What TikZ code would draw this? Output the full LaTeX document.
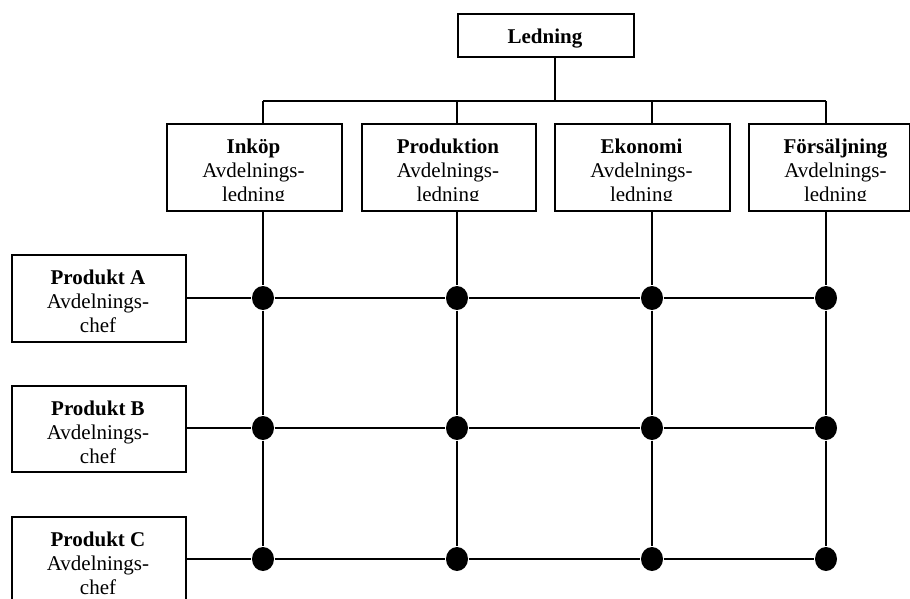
\documentclass[tikz,border=0pt]{standalone}
\usepackage{fontspec}
\setmainfont{Liberation Serif}
\usetikzlibrary{shapes.geometric}
\begin{document}
\begin{tikzpicture}[x=1pt,y=-1pt,line width=1.4pt,
  box/.style={draw,line width=1.5pt,rectangle,inner sep=0pt,anchor=north west},
  lbl/.style={anchor=north,inner sep=0pt,align=center,font=\fontsize{21}{24}\selectfont},
  dot/.style={ellipse,fill=black,draw=none,minimum width=22pt,minimum height=24pt,inner sep=0pt}]
\useasboundingbox (0,0) rectangle (910,598);

% boxes
\node[box,minimum width=176pt,minimum height=43pt] (led) at (457,13) {};
\node[box,minimum width=175pt,minimum height=87pt] (inkop) at (166,123) {};
\node[box,minimum width=174pt,minimum height=87pt] (prod) at (361,123) {};
\node[box,minimum width=175pt,minimum height=87pt] (ekon) at (554,123) {};
\node[box,minimum width=161pt,minimum height=87pt] (fors) at (748,123) {};
\node[box,minimum width=174pt,minimum height=87pt] (pa) at (11,254) {};
\node[box,minimum width=174pt,minimum height=86pt] (pb) at (11,385) {};
\node[box,minimum width=174pt,minimum height=100pt] (pc) at (11,516) {};

% box texts, cut off by the inner margin of each box
\node[lbl] (tled) at (545,27) {\rule{0pt}{16pt}\textbf{Ledning}};
\begin{scope}
  \clip (166,123) rectangle (341,200);
  \node[lbl] (tinkop) at (253.5,137) {\rule{0pt}{16pt}\textbf{Inköp}\\Avdelnings-\\ledning};
\end{scope}
\begin{scope}
  \clip (361,123) rectangle (535,200);
  \node[lbl] (tprod) at (448,137) {\rule{0pt}{16pt}\textbf{Produktion}\\Avdelnings-\\ledning};
\end{scope}
\begin{scope}
  \clip (554,123) rectangle (729,200);
  \node[lbl] (tekon) at (641.5,137) {\rule{0pt}{16pt}\textbf{Ekonomi}\\Avdelnings-\\ledning};
\end{scope}
\begin{scope}
  \clip (748,123) rectangle (909,200);
  \node[lbl] (tfors) at (835.5,137) {\rule{0pt}{16pt}\textbf{Försäljning}\\Avdelnings-\\ledning};
\end{scope}
\begin{scope}
  \clip (11,254) rectangle (185,333);
  \node[lbl] (tpa) at (98,268) {\rule{0pt}{16pt}\textbf{Produkt A}\\Avdelnings-\\chef};
\end{scope}
\begin{scope}
  \clip (11,385) rectangle (185,471);
  \node[lbl] (tpb) at (98,399) {\rule{0pt}{16pt}\textbf{Produkt B}\\Avdelnings-\\chef};
\end{scope}
\begin{scope}
  \clip (11,516) rectangle (185,598);
  \node[lbl] (tpc) at (98,530) {\rule{0pt}{16pt}\textbf{Produkt C}\\Avdelnings-\\chef};
\end{scope}

% junction dots
\foreach \c/\x in {1/263,2/457,3/652,4/826}{
  \node[dot] (dA\c) at (\x,298) {};
  \node[dot] (dB\c) at (\x,428) {};
  \node[dot] (dC\c) at (\x,559) {};
}

% management bus
\coordinate (bus) at (555,101);
\draw (led.south -| bus) -- (bus);
\draw (bus -| dA1) -- (bus -| dA4);
\draw (bus -| dA1) -- (inkop.north -| dA1);
\draw (bus -| dA2) -- (prod.north -| dA2);
\draw (bus -| dA3) -- (ekon.north -| dA3);
\draw (bus -| dA4) -- (fors.north -| dA4);

% department columns
\draw (inkop.south -| dA1) -- (dA1) -- (dB1) -- (dC1);
\draw (prod.south -| dA2) -- (dA2) -- (dB2) -- (dC2);
\draw (ekon.south -| dA3) -- (dA3) -- (dB3) -- (dC3);
\draw (fors.south -| dA4) -- (dA4) -- (dB4) -- (dC4);

% product rows
\draw (pa.east |- dA1) -- (dA1) -- (dA2) -- (dA3) -- (dA4);
\draw (pb.east |- dB1) -- (dB1) -- (dB2) -- (dB3) -- (dB4);
\draw (pc.east |- dC1) -- (dC1) -- (dC2) -- (dC3) -- (dC4);
\end{tikzpicture}
\end{document}
